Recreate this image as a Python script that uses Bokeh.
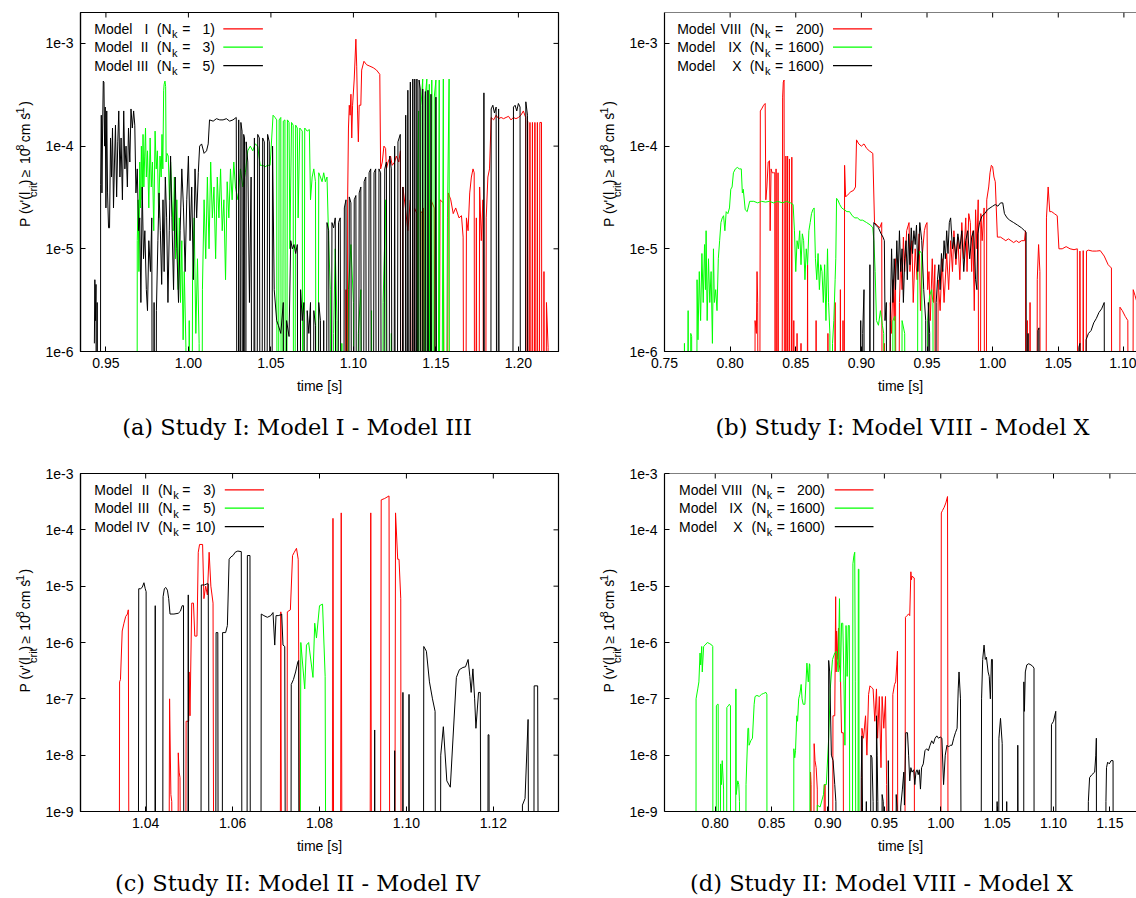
import math
from bokeh.plotting import figure
from bokeh.models import Range1d, FixedTicker, CustomJSTickFormatter, Label, Span
from bokeh.layouts import column, row
from bokeh.embed import file_html
from bokeh.resources import INLINE

LOW = 1e-12  # probability below the plotted range (drawn as a drop to the axis)

# ---------------- Panel (a): Study I, Model I - Model III ----------------
a_xticks = [0.95, 1.00, 1.05, 1.10, 1.15, 1.20]
a_yticks = [1e-6, 1e-5, 1e-4, 1e-3]
a_model_I = [
    (1.0950, LOW), (1.0955, 4e-6), (1.0960, LOW), (1.0965, 3e-5), (1.0970, 1.5e-4), (1.0975, 2.5e-4),
    (1.0980, 2e-4), (1.0985, 3.2e-4), (1.0990, 1.2e-4), (1.0995, 2.5e-4), (1.1005, 4.5e-4), (1.1015, 1.1e-3),
    (1.1020, 6e-4), (1.1025, 2.2e-4), (1.1030, 1.1e-4), (1.1035, 2.5e-4), (1.1045, 2.5e-4), (1.1050, 5.5e-4),
    (1.1064, 6.7e-4), (1.1080, 6.2e-4), (1.1100, 6.0e-4), (1.1120, 5.8e-4), (1.1140, 5.5e-4), (1.1160, 5.0e-4),
    (1.1165, 6e-5), (1.1175, 7e-5), (1.1185, 1.0e-4), (1.1195, 9.5e-5), (1.1200, 6e-5), (1.1210, 7e-5),
    (1.1225, 8e-5), (1.1235, 6.5e-5), (1.1250, 7e-5), (1.1260, 8e-5), (1.1275, 7e-5), (1.1285, 9e-5),
    (1.1290, LOW), (1.1300, 4e-5), (1.1315, 2.5e-5), (1.1330, 1.5e-5), (1.1345, 3e-5), (1.1360, LOW),
    (1.1370, 2.5e-5), (1.1385, 2.2e-5), (1.1400, LOW), (1.1410, 2.2e-5), (1.1425, 2.5e-5), (1.1440, LOW),
    (1.1470, 3e-5), (1.1490, 2.5e-5), (1.1510, LOW), (1.1525, 3e-5), (1.1545, 2.8e-5), (1.1560, LOW),
    (1.1575, 3.5e-5), (1.1590, 3e-5), (1.1605, 2.2e-5), (1.1620, 2.5e-5), (1.1640, 2e-5), (1.1655, 2.1e-5),
    (1.1665, 1.3e-5), (1.1675, LOW), (1.1685, 2e-5), (1.1695, 1.5e-5), (1.1705, 3.5e-5), (1.1715, 5e-5),
    (1.1725, 6e-5), (1.1732, 5.5e-5), (1.1738, LOW), (1.1745, 2e-5), (1.1755, LOW), (1.1765, 4e-5),
    (1.1775, 1.2e-5), (1.1785, 3e-5), (1.1795, LOW), (1.1805, 2e-5), (1.1815, 5e-5), (1.1825, 6e-5),
    (1.1835, 1.9e-4), (1.1850, 1.8e-4), (1.1865, 2.0e-4), (1.1880, 1.85e-4), (1.1895, 1.9e-4), (1.1910, 1.85e-4),
    (1.1925, 1.9e-4), (1.1940, 1.95e-4), (1.1955, 1.8e-4), (1.1970, 1.9e-4), (1.1985, 1.85e-4), (1.2000, 1.9e-4),
    (1.2015, 2.0e-4), (1.2030, 2.2e-4), (1.2044, 1.9e-4), (1.2050, LOW), (1.2056, 1.75e-4), (1.2062, LOW),
    (1.2070, 1.7e-4), (1.2076, LOW), (1.2085, 1.7e-4), (1.2092, LOW), (1.2100, 1.7e-4), (1.2107, LOW),
    (1.2115, 1.7e-4), (1.2122, LOW), (1.2130, 1.7e-4), (1.2140, 1.7e-4), (1.2145, LOW), (1.2155, 6e-6),
    (1.2160, LOW), (1.2170, 3e-6), (1.2180, 1.1e-6), (1.2185, LOW),
]
a_model_II = [
    (0.9687, LOW), (0.9690, 1.2e-5), (0.9695, 3e-5), (0.9700, 6e-6), (0.9705, 7e-5), (0.9710, 2.5e-5),
    (0.9715, 1e-4), (0.9720, 3e-5), (0.9725, 1.3e-4), (0.9730, 4e-5), (0.9735, 8e-5), (0.9740, 1.5e-4),
    (0.9745, 5e-5), (0.9752, 9e-5), (0.9760, 2.5e-5), (0.9768, 1.2e-4), (0.9775, 4e-5), (0.9782, 7e-5),
    (0.9790, 1.5e-5), (0.9798, 1.4e-4), (0.9805, 6e-5), (0.9812, 9e-5), (0.9820, 2e-5), (0.9828, 8e-5),
    (0.9835, 5e-5), (0.9840, 1.3e-4), (0.9845, 6e-5), (0.9850, 3.5e-4), (0.9853, 4.0e-4), (0.9858, 4.3e-4),
    (0.9862, 3.8e-4), (0.9865, 7e-5), (0.9870, 8.5e-5), (0.9878, 8e-5), (0.9885, 3e-5), (0.9892, 7e-5),
    (0.9900, 3e-5), (0.9908, 1.5e-5), (0.9915, 5e-5), (0.9922, 8e-6), (0.9930, 3e-5), (0.9938, 4e-6),
    (0.9945, 2e-5), (0.9952, 3e-6), (0.9960, 1.2e-5), (0.9968, 1.3e-6), (0.9975, 6e-6), (0.9985, 1.1e-6),
    (0.9995, LOW), (1.0005, 2e-6), (1.0015, LOW), (1.0025, 5e-6), (1.0035, 2e-5), (1.0045, 1.5e-6),
    (1.0055, 8e-6), (1.0065, 1.2e-6), (1.0075, LOW), (1.0085, 4e-6), (1.0095, 3e-5), (1.0105, 8e-6),
    (1.0115, 5e-5), (1.0125, 1e-5), (1.0135, 7e-5), (1.0145, 2e-5), (1.0155, 4e-5), (1.0165, 8e-6),
    (1.0175, 5e-5), (1.0185, 2e-5), (1.0195, 6e-5), (1.0205, 1.5e-5), (1.0215, 3e-5), (1.0225, 5e-6),
    (1.0235, 4.5e-5), (1.0245, 2e-5), (1.0255, 6e-5), (1.0265, 3e-5), (1.0275, 7e-5), (1.0285, 4e-5),
    (1.0300, 3e-5), (1.0315, 6e-5), (1.0330, 4e-5), (1.0345, 5.5e-5), (1.0360, 9e-5), (1.0375, 1.0e-4),
    (1.0390, 9e-5), (1.0405, 1.05e-4), (1.0420, 1.0e-4), (1.0435, 6.5e-5), (1.0450, 6.5e-5), (1.0465, 6.3e-5),
    (1.0480, 6.5e-5), (1.0495, 6.5e-5), (1.0505, 1.2e-4), (1.0513, 2.0e-4), (1.0525, 1.9e-4), (1.0535, 1.8e-4),
    (1.0540, LOW), (1.0550, 1.8e-4), (1.0560, 1.9e-4), (1.0565, LOW), (1.0575, 1.75e-4), (1.0585, 1.8e-4),
    (1.0590, LOW), (1.0600, 1.8e-4), (1.0610, 1.7e-4), (1.0615, 1e-5), (1.0625, 1.7e-4), (1.0635, 1.6e-4),
    (1.0640, LOW), (1.0650, 1.6e-4), (1.0660, 1.5e-4), (1.0665, 2e-5), (1.0675, 1.5e-4), (1.0690, 1.4e-4),
    (1.0695, LOW), (1.0705, 1.5e-4), (1.0720, 1.4e-4), (1.0733, 1.45e-4), (1.0740, 3e-5), (1.0750, 5e-5),
    (1.0760, 6e-5), (1.0770, 4.5e-5), (1.0780, LOW), (1.0790, 5.5e-5), (1.0800, 5e-5), (1.0810, 4.5e-5),
    (1.0820, 5.5e-5), (1.0830, 4.5e-5), (1.0840, 5e-5), (1.0850, 1.2e-5), (1.0860, 4e-6), (1.0870, LOW),
    (1.0880, 1.5e-6), (1.0890, 1e-5), (1.0900, 2e-6), (1.0910, LOW), (1.0930, 1.2e-6), (1.0950, LOW),
    (1.0970, 4e-6), (1.0985, 1.1e-5), (1.1000, 3e-6), (1.1010, LOW), (1.1030, 1.5e-6), (1.1045, 4e-6),
    (1.1060, LOW), (1.1100, LOW), (1.1110, 2.5e-6), (1.1120, LOW), (1.1170, LOW), (1.1180, 3e-6),
    (1.1196, 3e-5), (1.1205, LOW), (1.1230, 1.5e-6), (1.1240, LOW), (1.1385, LOW), (1.1390, 5e-5),
    (1.1395, 2.2e-4), (1.1400, LOW), (1.1410, 2.5e-4), (1.1420, 4.5e-4), (1.1425, LOW), (1.1435, 3e-4),
    (1.1445, 4.5e-4), (1.1450, LOW), (1.1460, 4e-4), (1.1465, LOW), (1.1475, 4.4e-4), (1.1480, LOW),
    (1.1490, 3e-4), (1.1500, 4.4e-4), (1.1505, LOW), (1.1520, 4.4e-4), (1.1525, LOW), (1.1545, 4.5e-4),
    (1.1550, LOW), (1.1570, 2e-5), (1.1580, 4.5e-4), (1.1585, LOW), (1.1600, LOW),
]
a_model_III = [
    (0.9430, 1.2e-6), (0.9433, 5e-6), (0.9437, 2e-6), (0.9440, 4.5e-6), (0.9444, LOW), (0.9447, 3e-6),
    (0.9450, LOW), (0.9466, LOW), (0.9468, 4.2e-5), (0.9472, 2e-4), (0.9476, 3.5e-5), (0.9480, 1.5e-4),
    (0.9484, 4.3e-4), (0.9488, 4.2e-4), (0.9492, 1.0e-4), (0.9496, 2.4e-4), (0.9500, 2.5e-5), (0.9505, 2.2e-4),
    (0.9510, 3.5e-5), (0.9516, 1.6e-5), (0.9522, 1.6e-5), (0.9528, 1.2e-4), (0.9534, 5e-5), (0.9540, 1.5e-4),
    (0.9546, 2.5e-5), (0.9552, 7e-5), (0.9558, 1.6e-4), (0.9565, 3.2e-5), (0.9572, 1.1e-4), (0.9578, 2.2e-4),
    (0.9585, 5e-5), (0.9592, 1.2e-4), (0.9600, 3e-5), (0.9608, 2.2e-4), (0.9615, 6e-5), (0.9622, 1.0e-4),
    (0.9630, 4e-5), (0.9637, 1.5e-4), (0.9645, 7e-5), (0.9652, 2.3e-4), (0.9660, 1.5e-4), (0.9668, 2.2e-4),
    (0.9675, 1.6e-4), (0.9682, 3.5e-5), (0.9690, 6e-5), (0.9698, 1.5e-5), (0.9705, 2e-5), (0.9712, 3e-6),
    (0.9720, 4e-5), (0.9728, 8e-6), (0.9736, 1.5e-5), (0.9745, 4e-6), (0.9752, 2.5e-6), (0.9760, 1.2e-5),
    (0.9770, 6e-6), (0.9778, 2e-5), (0.9786, LOW), (0.9792, 3e-6), (0.9800, LOW), (0.9806, 2.5e-6),
    (0.9815, 1.2e-5), (0.9822, 3.5e-5), (0.9830, 1.5e-5), (0.9838, 4.5e-6), (0.9846, 3e-5), (0.9853, 6e-6),
    (0.9860, 5e-5), (0.9868, 2e-5), (0.9876, 3e-6), (0.9884, 1.5e-5), (0.9892, 8e-5), (0.9900, 2e-5),
    (0.9910, 4e-6), (0.9920, 5e-5), (0.9930, 1e-5), (0.9940, 3e-6), (0.9950, 1.5e-5), (0.9960, 6e-5),
    (0.9970, 2.5e-5), (0.9980, 6e-6), (0.9990, 3e-5), (1.0000, 8e-5), (1.0010, 1.2e-5), (1.0020, 4e-5),
    (1.0030, 5e-6), (1.0040, 6e-5), (1.0050, 2e-5), (1.0060, 5.5e-5), (1.0068, 1.0e-4), (1.0080, 1.05e-4),
    (1.0095, 8.5e-5), (1.0110, 9e-5), (1.0120, 1.05e-4), (1.0128, 1.8e-4), (1.0150, 1.75e-4), (1.0170, 1.85e-4),
    (1.0190, 1.8e-4), (1.0210, 1.8e-4), (1.0230, 1.85e-4), (1.0250, 1.75e-4), (1.0270, 1.8e-4), (1.0290, 1.9e-4),
    (1.0300, LOW), (1.0305, 1.8e-4), (1.0312, LOW), (1.0318, 1.7e-4), (1.0325, 1.4e-4), (1.0330, LOW),
    (1.0335, 1.3e-4), (1.0340, 1.2e-4), (1.0345, LOW), (1.0350, 1.1e-4), (1.0360, 7e-5), (1.0370, 3e-6),
    (1.0380, 5e-5), (1.0390, LOW), (1.0400, 1.2e-4), (1.0410, LOW), (1.0420, 1.3e-4), (1.0430, 1.2e-4),
    (1.0440, LOW), (1.0450, 1.2e-4), (1.0460, 1.1e-4), (1.0470, LOW), (1.0480, 1.3e-4), (1.0490, 1.1e-4),
    (1.0500, LOW), (1.0510, 1.0e-4), (1.0520, 4e-6), (1.0535, 2e-6), (1.0545, 1.8e-6), (1.0560, 1.5e-6),
    (1.0575, 3e-6), (1.0585, LOW), (1.0595, 2e-6), (1.0610, 1.4e-6), (1.0620, 1.2e-5), (1.0630, 1e-5),
    (1.0640, 1.1e-5), (1.0650, 9e-6), (1.0660, 1.1e-5), (1.0670, LOW), (1.0680, 4e-6), (1.0690, 2e-6),
    (1.0700, 3e-6), (1.0710, LOW), (1.0720, 2.5e-6), (1.0730, 1.5e-6), (1.0740, 3e-6), (1.0750, LOW),
    (1.0760, 2.5e-6), (1.0770, 1.8e-6), (1.0780, LOW), (1.0790, 3e-6), (1.0800, 2e-6), (1.0810, LOW),
    (1.0820, 2e-6), (1.0830, LOW), (1.0840, 1.8e-5), (1.0850, 1.5e-5), (1.0860, LOW), (1.0870, 1.8e-5),
    (1.0880, 1.6e-5), (1.0890, 2e-5), (1.0900, LOW), (1.0910, 1.8e-5), (1.0920, 2e-5), (1.0935, LOW),
    (1.0945, 2.5e-5), (1.0955, 3e-5), (1.0965, LOW), (1.0975, 3.2e-5), (1.0985, 2.8e-5), (1.0995, LOW),
    (1.1005, 3e-5), (1.1015, 3.3e-5), (1.1025, LOW), (1.1035, 3.5e-5), (1.1045, 4e-5), (1.1055, LOW),
    (1.1065, 4.5e-5), (1.1075, 5e-5), (1.1085, LOW), (1.1095, 5.5e-5), (1.1105, 6e-5), (1.1115, LOW),
    (1.1125, 5.5e-5), (1.1135, 6e-5), (1.1145, LOW), (1.1155, 6e-5), (1.1165, 5.5e-5), (1.1175, LOW),
    (1.1190, 6e-5), (1.1200, 7e-5), (1.1210, LOW), (1.1220, 8e-5), (1.1230, 6e-5), (1.1240, LOW),
    (1.1250, 1.0e-4), (1.1260, LOW), (1.1270, 1.1e-4), (1.1284, 1.3e-4), (1.1290, LOW), (1.1300, 4e-5),
    (1.1310, LOW), (1.1317, 2e-4), (1.1325, LOW), (1.1330, 3.5e-4), (1.1338, LOW), (1.1345, 4.2e-4),
    (1.1352, LOW), (1.1360, 4.5e-4), (1.1366, LOW), (1.1372, 4.5e-4), (1.1378, LOW), (1.1385, 4.5e-4),
    (1.1392, LOW), (1.1398, 4.4e-4), (1.1405, 3.6e-4), (1.1412, LOW), (1.1420, 3.6e-4), (1.1428, LOW),
    (1.1436, 3.4e-4), (1.1445, LOW), (1.1452, 3.5e-4), (1.1460, LOW), (1.1470, 3.2e-4), (1.1480, LOW),
    (1.1500, 3.0e-4), (1.1510, LOW), (1.1785, LOW), (1.1791, 3.3e-4), (1.1797, LOW), (1.1830, LOW),
    (1.1835, 2.3e-4), (1.1845, 2.5e-4), (1.1855, 2.1e-4), (1.1865, 2.4e-4), (1.1872, LOW), (1.1880, 2.3e-4),
    (1.1890, LOW), (1.1960, LOW), (1.1970, 2.4e-4), (1.1980, 2.5e-4), (1.1990, 2.2e-4), (1.2000, 2.6e-4),
    (1.2010, 2.4e-4), (1.2015, LOW), (1.2040, LOW), (1.2045, 2.7e-4), (1.2055, 2e-4), (1.2060, LOW),
]

# ---------------- Panel (b): Study I, Model VIII - Model X ----------------
b_xticks = [0.75, 0.80, 0.85, 0.90, 0.95, 1.00, 1.05, 1.10]
b_yticks = [1e-6, 1e-5, 1e-4, 1e-3]
b_model_VIII = [
    (0.8185, LOW), (0.8190, 2e-6), (0.8200, 1.5e-6), (0.8205, 6e-6), (0.8210, 3e-6), (0.8220, LOW),
    (0.8230, 2.2e-4), (0.8240, 2.3e-4), (0.8255, 2.5e-4), (0.8267, 2.6e-4), (0.8272, 3e-5), (0.8280, 4e-5),
    (0.8290, 7e-5), (0.8300, 7.2e-5), (0.8305, 1.5e-5), (0.8312, 6e-5), (0.8320, 5.5e-5), (0.8330, 5.5e-5),
    (0.8340, 5.5e-5), (0.8345, LOW), (0.8350, 6e-5), (0.8358, LOW), (0.8365, 5.5e-5), (0.8375, LOW),
    (0.8390, LOW), (0.8400, 3e-4), (0.8405, 4.2e-4), (0.8411, 4.4e-4), (0.8418, LOW), (0.8425, 8e-5),
    (0.8430, LOW), (0.8438, 8e-5), (0.8445, LOW), (0.8452, 7.5e-5), (0.8460, LOW), (0.8470, 7.8e-5),
    (0.8477, LOW), (0.8485, 2e-6), (0.8495, LOW), (0.8510, 1.5e-6), (0.8520, LOW), (0.8540, 1.2e-6),
    (0.8550, LOW), (0.8580, LOW), (0.8590, 7e-6), (0.8600, LOW), (0.8650, LOW), (0.8655, 2e-6),
    (0.8665, LOW), (0.8740, LOW), (0.8745, 1.5e-6), (0.8755, LOW), (0.8790, LOW), (0.8800, 3e-6),
    (0.8810, LOW), (0.8830, LOW), (0.8840, 4e-6), (0.8850, LOW), (0.8860, 2e-6), (0.8866, LOW),
    (0.8872, 6.5e-5), (0.8880, 3.2e-5), (0.8900, 3.4e-5), (0.8920, 3.6e-5), (0.8940, 3.7e-5), (0.8955, 4e-5),
    (0.8963, 1.15e-4), (0.8980, 1.05e-4), (0.9000, 1.0e-4), (0.9020, 1.05e-4), (0.9040, 9.5e-5), (0.9060, 9e-5),
    (0.9087, 8.5e-5), (0.9100, 1.8e-5), (0.9120, 1.7e-5), (0.9140, 1.6e-5), (0.9155, 1.8e-5), (0.9165, LOW),
    (0.9175, 1.2e-6), (0.9185, LOW), (0.9215, LOW), (0.9220, 3e-6), (0.9230, 1.5e-6), (0.9240, 5e-6),
    (0.9250, 2e-6), (0.9260, 8e-6), (0.9270, LOW), (0.9290, 3e-6), (0.9300, 8e-6), (0.9310, 4e-6),
    (0.9320, 1.3e-5), (0.9330, 6e-6), (0.9345, 1.5e-5), (0.9363, 1.8e-5), (0.9370, 6e-6), (0.9385, 1.2e-5),
    (0.9395, 3e-6), (0.9410, 1e-5), (0.9425, 5e-6), (0.9440, 1.4e-5), (0.9450, 2.5e-6), (0.9465, 9e-6),
    (0.9480, 1.5e-5), (0.9490, 1.7e-5), (0.9500, 1.8e-5), (0.9505, 4e-6), (0.9515, 6e-6), (0.9525, 2e-6),
    (0.9540, 8e-6), (0.9550, 3e-6), (0.9560, 7e-6), (0.9570, LOW), (0.9585, 5e-6), (0.9600, 2.5e-6),
    (0.9615, 8e-6), (0.9630, 3e-6), (0.9650, 9e-6), (0.9665, 4e-6), (0.9680, 1.2e-5), (0.9694, 6e-6),
    (0.9705, 1.5e-5), (0.9720, 7e-6), (0.9735, 1.3e-5), (0.9750, 5e-6), (0.9765, 1.8e-5), (0.9780, 8e-6),
    (0.9795, 2e-5), (0.9805, 6e-6), (0.9818, 2.2e-5), (0.9830, 1.8e-5), (0.9840, 6e-6), (0.9850, 1.5e-5),
    (0.9860, 2.5e-6), (0.9870, 2.4e-5), (0.9880, 1e-5), (0.9890, 3e-5), (0.9900, LOW), (0.9910, 2.2e-5),
    (0.9920, 1.2e-5), (0.9935, 2.5e-5), (0.9945, LOW), (0.9955, 3e-5), (0.9970, 4e-5), (0.9980, 5.5e-5),
    (0.9990, 6.5e-5), (1.0000, 6.3e-5), (1.0010, 5e-5), (1.0020, 4.5e-5), (1.0036, 1.3e-5), (1.0060, 1.3e-5),
    (1.0080, 1.25e-5), (1.0100, 1.2e-5), (1.0120, 1.25e-5), (1.0140, 1.2e-5), (1.0160, 1.15e-5), (1.0180, 1.2e-5),
    (1.0200, 1.15e-5), (1.0220, 1.2e-5), (1.0243, 1.2e-5), (1.0250, 1.5e-5), (1.0255, LOW), (1.0265, 2e-6),
    (1.0275, LOW), (1.0285, 3e-6), (1.0295, LOW), (1.0330, LOW), (1.0340, 5e-6), (1.0350, 1.1e-5),
    (1.0360, 6e-6), (1.0370, LOW), (1.0400, LOW), (1.0410, 2e-5), (1.0423, 4e-5), (1.0435, 2.3e-5),
    (1.0450, 2.3e-5), (1.0470, 2.2e-5), (1.0492, 2.1e-5), (1.0505, 1e-5), (1.0530, 1e-5), (1.0560, 1.05e-5),
    (1.0590, 1e-5), (1.0620, 9.8e-6), (1.0645, 1e-5), (1.0655, LOW), (1.0665, 9.5e-6), (1.0680, LOW),
    (1.0690, 9.6e-6), (1.0705, LOW), (1.0715, 9.5e-6), (1.0730, 9.7e-6), (1.0760, 9.5e-6), (1.0790, 9.5e-6),
    (1.0820, 9.6e-6), (1.0850, 8.5e-6), (1.0880, 7e-6), (1.0905, 6.5e-6), (1.0915, LOW), (1.0960, LOW),
    (1.0970, 2.7e-6), (1.0988, 2.5e-6), (1.1010, 2.2e-6), (1.1030, 2e-6), (1.1040, LOW), (1.1060, LOW),
    (1.1071, 4e-6), (1.1085, 3.5e-6), (1.1100, 3e-6),
]
b_model_IX = [
    (0.7650, LOW), (0.7652, 1.2e-6), (0.7665, LOW), (0.7680, 2.5e-6), (0.7690, LOW), (0.7700, 1.5e-6),
    (0.7707, 1.4e-6), (0.7715, LOW), (0.7740, LOW), (0.7748, 5e-6), (0.7755, 1.3e-6), (0.7765, 6e-6),
    (0.7775, 2e-6), (0.7785, 9e-6), (0.7795, 3e-6), (0.7805, 1.1e-5), (0.7812, 4e-6), (0.7817, 1.5e-5),
    (0.7825, 2e-6), (0.7835, 8e-6), (0.7845, 3e-6), (0.7855, 6e-6), (0.7865, 1.2e-6), (0.7873, 1e-5),
    (0.7880, 3e-6), (0.7890, 4e-6), (0.7900, 2.5e-6), (0.7910, 8e-6), (0.7920, 1.2e-5), (0.7930, 1.8e-5),
    (0.7940, 2e-5), (0.7950, 2.1e-5), (0.7960, 1.5e-5), (0.7970, 2.3e-5), (0.7983, 2.2e-5), (0.7995, 2.5e-5),
    (0.8005, 3.8e-5), (0.8015, 4e-5), (0.8025, 5.5e-5), (0.8040, 6e-5), (0.8055, 6.2e-5), (0.8070, 6e-5),
    (0.8085, 6e-5), (0.8093, 3.5e-5), (0.8100, 3.8e-5), (0.8115, 2.4e-5), (0.8130, 2.3e-5), (0.8149, 2.9e-5),
    (0.8180, 2.9e-5), (0.8210, 2.8e-5), (0.8240, 2.9e-5), (0.8270, 2.85e-5), (0.8300, 2.9e-5), (0.8330, 2.8e-5),
    (0.8360, 2.9e-5), (0.8400, 2.8e-5), (0.8430, 2.9e-5), (0.8460, 2.8e-5), (0.8480, 2.7e-5), (0.8490, 1.5e-5),
    (0.8500, 6e-6), (0.8510, 1.2e-5), (0.8520, 1e-5), (0.8530, 1.5e-5), (0.8540, 7e-6), (0.8550, 1.4e-5),
    (0.8560, 1.2e-5), (0.8570, 5e-6), (0.8580, 1e-5), (0.8590, 7e-6), (0.8600, 1.5e-5), (0.8610, 1.8e-5),
    (0.8620, 2.2e-5), (0.8630, 2.4e-5), (0.8640, 2.5e-5), (0.8650, 8e-6), (0.8660, 5e-6), (0.8670, 9e-6),
    (0.8680, 4e-6), (0.8690, 7e-6), (0.8700, 6e-6), (0.8710, 3e-6), (0.8720, 7e-6), (0.8730, 2e-6),
    (0.8742, 1e-5), (0.8750, 3e-6), (0.8760, 1.5e-6), (0.8770, LOW), (0.8780, 1.2e-6), (0.8790, 2e-6),
    (0.8800, 5e-6), (0.8805, 8e-6), (0.8811, 3.1e-5), (0.8820, 3e-5), (0.8835, 2.7e-5), (0.8850, 2.5e-5),
    (0.8870, 2.4e-5), (0.8890, 2.3e-5), (0.8910, 2.3e-5), (0.8930, 2.1e-5), (0.8950, 2e-5), (0.8970, 2e-5),
    (0.8990, 1.9e-5), (0.9010, 1.9e-5), (0.9040, 1.8e-5), (0.9070, 1.7e-5), (0.9087, 1.6e-5), (0.9095, 1.2e-5),
    (0.9105, 6e-6), (0.9115, 2e-6), (0.9130, 1.8e-6), (0.9145, 2.5e-6), (0.9160, 1.8e-6), (0.9170, 1.5e-6),
    (0.9180, LOW), (0.9230, LOW), (0.9240, 2e-6), (0.9255, 2.2e-6), (0.9270, LOW), (0.9300, LOW),
    (0.9310, 2e-6), (0.9330, 1.5e-6), (0.9340, LOW), (0.9420, LOW), (0.9430, 8e-6), (0.9445, 9.5e-6),
    (0.9460, 9e-6), (0.9470, LOW), (0.9500, LOW), (0.9505, 2e-6), (0.9520, 3.5e-6), (0.9535, 4e-6),
    (0.9545, 3e-6), (0.9555, LOW),
]
b_model_X = [
    (0.8990, LOW), (0.8995, 2e-6), (0.9000, LOW), (0.9010, 1.5e-6), (0.9020, 4e-6), (0.9025, LOW),
    (0.9060, LOW), (0.9065, 7e-6), (0.9070, LOW), (0.9085, LOW), (0.9095, 1.8e-5), (0.9110, 1.7e-5),
    (0.9130, 1.6e-5), (0.9150, 1.4e-5), (0.9165, 1.3e-5), (0.9175, 1.2e-5), (0.9180, 2e-6), (0.9190, 3e-6),
    (0.9200, LOW), (0.9220, 2e-6), (0.9230, 1e-5), (0.9240, 3e-6), (0.9250, 8e-6), (0.9260, 4e-6),
    (0.9270, 1.2e-5), (0.9280, 5e-6), (0.9290, 1.5e-5), (0.9300, 6e-6), (0.9310, 1e-5), (0.9320, 3e-6),
    (0.9330, 8e-6), (0.9340, 1.2e-5), (0.9350, 5e-6), (0.9360, 1.4e-5), (0.9370, 7e-6), (0.9380, 1.6e-5),
    (0.9390, 9e-6), (0.9400, 1.5e-5), (0.9410, 1.1e-5), (0.9420, 1.7e-5), (0.9430, 6e-6), (0.9445, 1.8e-5),
    (0.9460, 1.2e-5), (0.9475, 4e-6), (0.9490, 2e-6), (0.9500, LOW), (0.9510, 3e-6), (0.9520, 1.5e-6),
    (0.9530, LOW), (0.9560, LOW), (0.9570, 3e-6), (0.9580, 5e-6), (0.9590, 7e-6), (0.9600, 4e-6),
    (0.9610, 9e-6), (0.9620, 6e-6), (0.9630, 1.2e-5), (0.9640, 8e-6), (0.9650, 1.5e-5), (0.9660, 9e-6),
    (0.9670, 1.8e-5), (0.9680, 2e-5), (0.9694, 1e-5), (0.9705, 1.3e-5), (0.9720, 8e-6), (0.9735, 1.4e-5),
    (0.9750, 1e-5), (0.9765, 1.5e-5), (0.9780, 6e-6), (0.9795, 1.2e-5), (0.9810, 1.5e-5), (0.9825, 8e-6),
    (0.9840, 1.3e-5), (0.9855, 1.5e-5), (0.9870, 5e-6), (0.9880, 4e-6), (0.9887, 1.4e-5), (0.9900, 1.8e-5),
    (0.9920, 2.1e-5), (0.9940, 2.2e-5), (0.9960, 2.4e-5), (0.9980, 2.5e-5), (1.0000, 2.6e-5), (1.0020, 2.7e-5),
    (1.0040, 2.6e-5), (1.0060, 2.8e-5), (1.0077, 2.8e-5), (1.0090, 2.2e-5), (1.0110, 2e-5), (1.0130, 1.9e-5),
    (1.0160, 1.8e-5), (1.0190, 1.7e-5), (1.0220, 1.6e-5), (1.0243, 1.5e-5), (1.0255, 1.45e-5), (1.0260, LOW),
    (1.0270, 1.5e-6), (1.0280, LOW), (1.0340, LOW), (1.0345, 1.6e-6), (1.0353, 1.7e-6), (1.0360, LOW),
    (1.0650, LOW), (1.0657, 1.1e-6), (1.0665, 1.2e-6), (1.0670, LOW), (1.0700, LOW), (1.0712, 1.3e-6),
    (1.0730, 1.5e-6), (1.0750, 1.6e-6), (1.0770, 1.9e-6), (1.0790, 2.1e-6), (1.0810, 2.4e-6), (1.0830, 2.6e-6),
    (1.0850, 3e-6), (1.0860, LOW),
]

# ---------------- Panel (c): Study II, Model II - Model IV ----------------
c_xticks = [1.04, 1.06, 1.08, 1.10, 1.12]
c_yticks = [1e-9, 1e-8, 1e-7, 1e-6, 1e-5, 1e-4, 1e-3]
c_model_II = [
    (1.0339, LOW), (1.0340, 2e-7), (1.0342, 2.2e-7), (1.0346, 1.6e-6), (1.0350, 2.2e-6), (1.0354, 2.9e-6),
    (1.0358, 3.2e-6), (1.0360, 3.8e-6), (1.0362, LOW), (1.0453, LOW), (1.0455, 1e-7), (1.0458, 2e-9),
    (1.0460, 1.5e-9), (1.0462, LOW), (1.0474, LOW), (1.0475, 1.1e-8), (1.0477, 5e-9), (1.0479, 4e-9),
    (1.0481, LOW), (1.0492, LOW), (1.0493, 4e-8), (1.0499, 4e-8), (1.0500, 3e-7), (1.0502, 5e-8),
    (1.0506, 5e-6), (1.0510, 5e-6), (1.0513, 1.3e-6), (1.0518, 1.3e-6), (1.0521, 4e-5), (1.0524, 5.5e-5),
    (1.0531, 5.5e-5), (1.0534, 6e-6), (1.0538, 1e-5), (1.0542, 7e-6), (1.0546, 4e-5), (1.0550, 1e-5),
    (1.0555, 5e-6), (1.0557, LOW), (1.0709, LOW), (1.0711, 3.5e-6), (1.0713, LOW), (1.0725, LOW),
    (1.0726, 3.5e-6), (1.0733, 3.8e-6), (1.0738, 3.5e-5), (1.0742, 4e-5), (1.0747, 4.7e-5), (1.0751, 3e-5),
    (1.0756, LOW), (1.0829, LOW), (1.0831, 1.6e-4), (1.0833, LOW), (1.0848, LOW), (1.0850, 2e-4),
    (1.0852, LOW), (1.0916, LOW), (1.0918, 2e-4), (1.0920, LOW), (1.0940, LOW), (1.0942, 3.4e-4),
    (1.0950, 3.6e-4), (1.0960, 4e-4), (1.0962, LOW), (1.0973, LOW), (1.0975, 2e-4), (1.0980, 3e-5),
    (1.0983, 3e-5), (1.0987, 6e-6), (1.0988, LOW),
]
c_model_III = [
    (1.0755, LOW), (1.0757, 1e-6), (1.0766, 1.5e-7), (1.0770, 9e-7), (1.0775, 1e-6), (1.0785, 2.4e-7),
    (1.0789, 2.2e-6), (1.0793, 1.2e-6), (1.0800, 4.5e-6), (1.0807, 4.8e-6), (1.0813, 2.5e-7), (1.0815, LOW),
]
c_model_IV = [
    (1.0383, LOW), (1.0384, 9e-6), (1.0388, 9e-6), (1.0392, 9.5e-6), (1.0396, 1.15e-5), (1.0399, 9e-6),
    (1.0401, 8e-6), (1.0402, LOW), (1.0421, LOW), (1.0422, 4.5e-6), (1.0423, LOW), (1.0439, LOW),
    (1.0440, 6.5e-6), (1.0443, 9e-6), (1.0446, 9.5e-6), (1.0450, 8.5e-6), (1.0453, 6e-6), (1.0456, 3.2e-6),
    (1.0465, 3.2e-6), (1.0475, 3.3e-6), (1.0480, 3.6e-6), (1.0484, 4.5e-6), (1.0487, 4.5e-6), (1.0488, LOW),
    (1.0497, LOW), (1.0498, 7e-6), (1.0499, LOW), (1.0527, LOW), (1.0528, 1.05e-5), (1.0535, 1.05e-5),
    (1.0541, 1.1e-5), (1.0544, 1.1e-5), (1.0546, LOW), (1.0561, LOW), (1.0562, 1.5e-6), (1.0566, 1.5e-6),
    (1.0567, LOW), (1.0576, LOW), (1.0577, 1.5e-6), (1.0584, 1.5e-6), (1.0588, 2e-6), (1.0592, 3e-5),
    (1.0596, 3.3e-5), (1.0601, 3.5e-5), (1.0606, 4e-5), (1.0612, 4.2e-5), (1.0620, 4.1e-5), (1.0622, LOW),
    (1.0633, LOW), (1.0634, 3.5e-5), (1.0640, 3.5e-5), (1.0641, LOW), (1.0665, LOW), (1.0666, 3.2e-6),
    (1.0672, 3e-6), (1.0680, 2.8e-6), (1.0688, 3e-6), (1.0693, 3.4e-6), (1.0697, 9e-7), (1.0700, 3e-6),
    (1.0705, 3e-6), (1.0711, 3.1e-6), (1.0713, 3.2e-6), (1.0716, 9e-7), (1.0720, 8.5e-7), (1.0722, LOW),
    (1.0734, LOW), (1.0735, 1.8e-7), (1.0740, 2.2e-7), (1.0745, 3e-7), (1.0750, 4.5e-7), (1.0752, 4.8e-7),
    (1.0753, LOW), (1.0926, LOW), (1.0927, 2.8e-8), (1.0928, LOW), (1.0972, LOW), (1.0973, 1.2e-8),
    (1.0974, LOW), (1.0991, LOW), (1.0992, 1.3e-7), (1.0993, LOW), (1.1005, LOW), (1.1006, 1.2e-7),
    (1.1007, LOW), (1.1039, LOW), (1.1040, 8.5e-7), (1.1046, 7e-7), (1.1053, 2e-7), (1.1060, 1e-7),
    (1.1066, 6e-8), (1.1067, LOW), (1.1078, LOW), (1.1079, 1e-8), (1.1085, 3.2e-8), (1.1093, 3.5e-9),
    (1.1101, 2.7e-9), (1.1115, 2.4e-7), (1.1122, 3.3e-7), (1.1130, 3.6e-7), (1.1136, 3.7e-7), (1.1142, 5e-7),
    (1.1146, 2.5e-7), (1.1149, 1.3e-7), (1.1153, 3.4e-7), (1.1157, 1e-7), (1.1160, 3e-8), (1.1166, 1.3e-7),
    (1.1170, 1.3e-7), (1.1172, LOW), (1.1187, LOW), (1.1188, 2.3e-8), (1.1190, 2.3e-8), (1.1191, LOW),
    (1.1266, LOW), (1.1267, 1.3e-9), (1.1273, 1.7e-9), (1.1280, 4.3e-8), (1.1282, LOW), (1.1293, LOW),
    (1.1294, 1.7e-7), (1.1302, 1.7e-7), (1.1304, LOW),
]

# ---------------- Panel (d): Study II, Model VIII - Model X ----------------
d_xticks = [0.80, 0.85, 0.90, 0.95, 1.00, 1.05, 1.10, 1.15]
d_yticks = [1e-9, 1e-8, 1e-7, 1e-6, 1e-5, 1e-4, 1e-3]
d_model_VIII = [
    (0.8843, LOW), (0.8845, 5e-9), (0.8850, 3e-9), (0.8855, LOW), (0.8872, LOW), (0.8877, 1.6e-8),
    (0.8885, 8e-9), (0.8895, 6e-9), (0.8905, 2.5e-9), (0.8910, LOW), (0.8960, LOW), (0.8967, 3e-9),
    (0.8975, 3e-9), (0.8980, LOW), (0.9040, LOW), (0.9044, 5e-8), (0.9060, 5e-8), (0.9068, 6.5e-6),
    (0.9072, 3e-7), (0.9076, 1.6e-6), (0.9085, 5e-7), (0.9093, 1.8e-6), (0.9100, 4e-7), (0.9110, 3e-7),
    (0.9120, 2.5e-8), (0.9135, 2.5e-8), (0.9140, LOW), (0.9290, LOW), (0.9301, 3e-8), (0.9315, 2e-8),
    (0.9333, 5e-8), (0.9345, 1e-8), (0.9360, 1.2e-7), (0.9372, 1.7e-7), (0.9385, 1.6e-7), (0.9400, 1.5e-7),
    (0.9415, 4e-8), (0.9430, 1.5e-7), (0.9440, 2e-8), (0.9455, 1.1e-7), (0.9470, 6e-9), (0.9480, 1.1e-7),
    (0.9495, 3e-8), (0.9510, 1.1e-7), (0.9520, 3e-9), (0.9530, LOW), (0.9570, LOW), (0.9575, 1.2e-7),
    (0.9590, 1.8e-7), (0.9600, 2e-7), (0.9610, 4e-7), (0.9616, 7e-7), (0.9620, LOW), (0.9680, LOW),
    (0.9687, 2.8e-6), (0.9700, 3e-6), (0.9715, 3.2e-6), (0.9725, 3e-6), (0.9735, 1.8e-5), (0.9740, 1.3e-5),
    (0.9745, 1.5e-5), (0.9765, 1.4e-5), (0.9767, LOW), (1.0000, LOW), (1.0005, 2e-4), (1.0015, 2.2e-4),
    (1.0030, 2.5e-4), (1.0045, 3e-4), (1.0060, 3.9e-4), (1.0066, LOW),
]
d_model_IX = [
    (0.7829, LOW), (0.7830, 1e-7), (0.7845, 1.5e-7), (0.7855, 2e-7), (0.7865, 6.5e-7), (0.7871, 4e-7),
    (0.7880, 8.5e-7), (0.7885, 3e-7), (0.7897, 8.5e-7), (0.7910, 9e-7), (0.7930, 1e-6), (0.7952, 9.5e-7),
    (0.7970, 9e-7), (0.7978, 8.5e-7), (0.7980, LOW), (0.8008, LOW), (0.8010, 7.5e-8), (0.8020, 8e-8),
    (0.8026, 8e-8), (0.8028, LOW), (0.8040, LOW), (0.8048, 7e-9), (0.8055, 3e-9), (0.8062, 8e-9),
    (0.8074, 2.5e-9), (0.8080, LOW), (0.8100, LOW), (0.8103, 7e-8), (0.8115, 7.5e-8), (0.8125, 8e-8),
    (0.8135, 7.5e-8), (0.8136, LOW), (0.8180, LOW), (0.8183, 1.5e-7), (0.8186, 2e-9), (0.8200, 3.5e-9),
    (0.8209, 3e-9), (0.8215, 1.5e-9), (0.8225, LOW), (0.8268, LOW), (0.8273, 3e-9), (0.8290, 3e-8),
    (0.8296, 3e-8), (0.8300, 1.5e-8), (0.8315, 1.8e-8), (0.8330, 2e-8), (0.8345, 8e-8), (0.8353, 1.1e-7),
    (0.8370, 1.15e-7), (0.8390, 1.1e-7), (0.8410, 1.2e-7), (0.8430, 1.25e-7), (0.8450, 1.3e-7), (0.8458, 1.2e-7),
    (0.8459, LOW), (0.8695, LOW), (0.8697, 1.3e-8), (0.8705, 9e-9), (0.8712, 1.2e-8), (0.8723, 5e-8),
    (0.8730, 4e-8), (0.8740, 1e-7), (0.8750, 1.2e-7), (0.8762, 1.8e-7), (0.8770, 1e-7), (0.8780, 8e-8),
    (0.8795, 8e-8), (0.8805, 2e-7), (0.8813, 4.3e-7), (0.8825, 2e-7), (0.8835, 4.2e-7), (0.8839, 4e-7),
    (0.8840, LOW), (0.8900, LOW), (0.8905, 1.3e-9), (0.8930, 1.2e-9), (0.8960, 2e-9), (0.8967, 3e-9),
    (0.8985, 3e-9), (0.9006, 2e-8), (0.9020, 1.5e-7), (0.9040, 5e-7), (0.9060, 6.5e-7), (0.9076, 7e-7),
    (0.9090, 3e-7), (0.9102, 6e-6), (0.9110, 2e-7), (0.9120, 2.2e-6), (0.9131, 2.2e-6), (0.9140, 3e-7),
    (0.9150, 1.5e-8), (0.9160, 2e-6), (0.9170, 2.5e-7), (0.9180, 2e-6), (0.9189, 2e-6), (0.9195, LOW),
    (0.9215, LOW), (0.9221, 2.5e-5), (0.9230, 3.5e-5), (0.9237, 4e-5), (0.9242, 2e-7), (0.9250, LOW),
    (0.9265, LOW), (0.9269, 2e-5), (0.9274, 2e-5), (0.9276, LOW),
]
d_model_X = [
    (0.9004, LOW), (0.9006, 4.8e-7), (0.9015, 3e-7), (0.9030, 1e-8), (0.9045, 8e-9), (0.9060, 3e-9),
    (0.9070, 1.5e-9), (0.9076, LOW), (0.9290, LOW), (0.9295, 4e-9), (0.9301, 2.2e-8), (0.9306, 1.2e-9),
    (0.9310, LOW), (0.9330, LOW), (0.9340, 1.5e-9), (0.9345, LOW), (0.9375, LOW), (0.9380, 1e-8),
    (0.9390, 9e-9), (0.9400, 1.5e-9), (0.9410, LOW), (0.9428, LOW), (0.9430, 5e-8), (0.9436, 1e-8),
    (0.9442, 1.5e-9), (0.9450, LOW), (0.9475, LOW), (0.9480, 2e-9), (0.9490, 1.5e-9), (0.9495, LOW),
    (0.9530, LOW), (0.9535, 8e-9), (0.9540, 1.3e-9), (0.9545, LOW), (0.9600, LOW), (0.9605, 2e-9),
    (0.9612, 1.2e-9), (0.9616, LOW), (0.9640, LOW), (0.9645, 1.2e-9), (0.9660, 2.5e-9), (0.9672, 5e-9),
    (0.9678, 1.3e-9), (0.9690, 2.5e-8), (0.9705, 2.5e-8), (0.9715, 1e-8), (0.9725, 3.5e-9), (0.9735, 6e-9),
    (0.9745, 5e-9), (0.9760, 5.5e-9), (0.9770, 3e-9), (0.9780, 5e-9), (0.9790, 5.5e-9), (0.9800, 4.5e-9),
    (0.9810, 5.5e-9), (0.9820, 2.5e-9), (0.9830, 6e-9), (0.9845, 7e-9), (0.9860, 1.2e-8), (0.9875, 1.3e-8),
    (0.9890, 1.2e-8), (0.9905, 1.5e-8), (0.9920, 1.8e-8), (0.9935, 1.6e-8), (0.9950, 2e-8), (0.9965, 2.2e-8),
    (0.9980, 2e-8), (0.9995, 2.1e-8), (1.0010, 2e-8), (1.0025, 3e-9), (1.0040, 1e-8), (1.0055, 1.5e-8),
    (1.0070, 1.4e-8), (1.0085, 1.5e-8), (1.0100, 1.5e-8), (1.0115, 2e-8), (1.0130, 2.5e-8), (1.0145, 3e-8),
    (1.0155, 1.5e-7), (1.0162, 3e-7), (1.0175, 1e-7), (1.0185, LOW), (1.0355, LOW), (1.0362, 1e-7),
    (1.0372, 5e-7), (1.0384, 9e-7), (1.0395, 5e-7), (1.0405, 5.5e-7), (1.0420, 3e-7), (1.0430, 2.5e-7),
    (1.0440, 1e-7), (1.0450, 5e-7), (1.0458, 5e-7), (1.0460, LOW), (1.0495, LOW), (1.0500, 1.5e-9),
    (1.0505, LOW), (1.0512, LOW), (1.0516, 2e-8), (1.0530, 4.5e-8), (1.0545, 1.6e-8), (1.0554, LOW),
    (1.0580, LOW), (1.0585, 1.5e-9), (1.0590, LOW), (1.0680, LOW), (1.0683, 1.5e-8), (1.0690, LOW),
    (1.0735, LOW), (1.0737, 2e-7), (1.0742, 6e-8), (1.0750, 3e-7), (1.0763, 4e-7), (1.0780, 4.2e-7),
    (1.0800, 4e-7), (1.0815, 3.8e-7), (1.0827, 3.5e-7), (1.0828, LOW), (1.0975, LOW), (1.0982, 3.5e-8),
    (1.1000, 4e-8), (1.1020, 6e-8), (1.1022, LOW), (1.1300, LOW), (1.1309, 1.5e-9), (1.1320, 4e-9),
    (1.1340, 4.5e-9), (1.1365, 5e-9), (1.1375, 1e-8), (1.1380, 2e-8), (1.1382, LOW), (1.1460, LOW),
    (1.1465, 1.5e-9), (1.1470, 6e-9), (1.1480, 7.5e-9), (1.1495, 7e-9), (1.1510, 8e-9), (1.1528, 8e-9),
    (1.1530, LOW),
]

# legend entries: (roman numeral, N_k)
a_legend = [("I", "1"), ("II", "3"), ("III", "5")]
b_legend = [("VIII", "200"), ("IX", "1600"), ("X", "1600")]
c_legend = [("II", "3"), ("III", "5"), ("IV", "10")]
d_legend = [("VIII", "200"), ("IX", "1600"), ("X", "1600")]

captions = ["(a) Study I: Model I - Model III", "(b) Study I: Model VIII - Model X",
            "(c) Study II: Model II - Model IV", "(d) Study II: Model VIII - Model X"]

# ---------------- styling / helpers ----------------
SANS = "Liberation Sans"
SERIF = "DejaVu Serif"
COLORS = ["#ff0000", "#00ff00", "#000000"]
# advance widths (1/1000 em); the "greater or equal" sign is rendered from a fallback font, hence wider
AW = {'P': 667, ' ': 278, '(': 333, ')': 333, 'v': 500, "'": 191, 'l': 222, 'c': 500, 'r': 333, 'i': 222,
      't': 278, '\u2265': 838, '0': 556, '1': 556, '8': 556, 'm': 833, 's': 500, '-': 333, 'N': 722, 'k': 500}
MAIN, SMALL = 14, 11


def tw(s, size):
    return sum(AW.get(ch, 556) for ch in s) * size / 1000.0


def lbl(p, x, y, text, xo, yo, size, align="left", baseline="middle", font=SANS, angle=0.0):
    p.add_layout(Label(x=x, y=y, x_offset=xo, y_offset=yo, text=text, text_font=font,
                       text_font_size=f"{size}px", text_color="black", text_align=align,
                       text_baseline=baseline, angle=angle))


def blank(width, height):
    """A frame-only figure used as a text strip (y-axis titles, captions)."""
    f = figure(width=width, height=height, x_range=Range1d(0, width), y_range=Range1d(0, height),
               output_backend="svg", toolbar_location=None, title=None, min_border=0,
               x_axis_location=None, y_axis_location=None, outline_line_color=None,
               background_fill_color="white", border_fill_color="white")
    f.grid.visible = False
    return f


def ylabel_strip(width, height, base_x, center_y):
    """Rotated axis title P(v'(l_crit) >= 10^8 cm s^-1) built from pieces (sub/superscripts)."""
    f = blank(width, height)
    # (text, size, baseline shift to the right in px, extra leading advance)
    pieces = [("P (v'(l", MAIN, 0, 0), ("crit", SMALL, 7, 0.5), (")", MAIN, 0, 0.5),
              ("\u2265", MAIN, 0, tw(" ", MAIN)), ("10", MAIN, 0, tw(" ", MAIN)), ("8", SMALL, -6, 0.5),
              ("cm s", MAIN, 0, tw(" ", MAIN)), ("-1", SMALL, -6, 0.5), (")", MAIN, 0, tw(" ", MAIN))]
    total = sum(tw(t, s) + pre for t, s, _, pre in pieces)
    cur = -total / 2.0
    yc = height - center_y
    for t, s, shift, pre in pieces:
        cur += pre
        # baseline "middle": the em-box middle sits 0.3 em above the baseline (i.e. to the left when rotated)
        lbl(f, base_x + shift - 0.3 * s, yc + cur, t, 0, 0, s, baseline="middle", angle=math.pi / 2)
        cur += tw(t, s)
    return f


def caption_strip(height, items):
    f = blank(1136, height)
    for text, cx, mid_y in items:
        lbl(f, cx, height - mid_y, text, 0, 0, 22.5, align="center", baseline="middle", font=SERIF)
    return f


def make_panel(xr, yr, xticks, yticks, series, legend, leg_geom, width, height, borders, closed_right):
    bl, br, bt, bb = borders
    fw, fh = width - bl - br, height - bt - bb
    x0, x1 = xr
    y0, y1 = yr
    lt0, lt1 = math.log10(y0), math.log10(y1)
    p = figure(width=width, height=height, x_range=Range1d(x0, x1), y_range=Range1d(y0, y1),
               y_axis_type="log", output_backend="svg", toolbar_location=None, title=None,
               min_border_left=bl, min_border_right=br, min_border_top=bt, min_border_bottom=bb,
               outline_line_color="black" if closed_right else None, outline_line_width=1.2,
               background_fill_color="white", border_fill_color="white")
    p.grid.visible = False
    p.xaxis.ticker = FixedTicker(ticks=xticks, minor_ticks=[])
    p.yaxis.ticker = FixedTicker(ticks=yticks, minor_ticks=[])
    p.xaxis.formatter = CustomJSTickFormatter(code="return tick.toFixed(2);")
    p.yaxis.formatter = CustomJSTickFormatter(code="return tick.toExponential(0);")
    for ax in list(p.below) + list(p.left):
        ax.major_tick_in = 5
        ax.major_tick_out = 0
        ax.minor_tick_in = 0
        ax.minor_tick_out = 0
        ax.axis_line_color = "black"
        ax.axis_line_width = 1.2
        ax.major_tick_line_color = "black"
        ax.major_label_text_font = SANS
        ax.major_label_text_font_size = "14px"
        ax.major_label_text_color = "black"
    p.yaxis.major_label_standoff = 7
    p.xaxis.major_label_standoff = 6
    p.xaxis.axis_label = "time [s]"
    p.xaxis.axis_label_text_font = SANS
    p.xaxis.axis_label_text_font_size = "14px"
    p.xaxis.axis_label_text_font_style = "normal"
    p.xaxis.axis_label_text_color = "black"
    p.xaxis.axis_label_standoff = 7

    if not closed_right:
        p.add_layout(Span(location=y1, dimension="width", line_color="black", line_width=1.2))

    # mirrored tick marks on the top (and right) border, as gnuplot draws them
    tick_len_y = 10 ** (lt1 - 5.0 / fh * (lt1 - lt0))
    p.segment(x0=xticks, y0=[y1] * len(xticks), x1=xticks, y1=[tick_len_y] * len(xticks),
              line_color="black", line_width=1)
    if closed_right:
        xin = x1 - 5.0 / fw * (x1 - x0)
        p.segment(x0=[x1] * len(yticks), y0=yticks, x1=[xin] * len(yticks), y1=yticks,
                  line_color="black", line_width=1)

    for pairs, color in zip(series, COLORS):
        xs = [q[0] for q in pairs]
        ys = [q[1] for q in pairs]
        p.line(xs, ys, line_color=color, line_width=1)

    # legend (text left, sample line right, as in the original)
    model_l, num_r, paren_l, eq_l, val_r, ln0, ln1 = leg_geom
    for i, ((roman, nk), color) in enumerate(zip(legend, COLORS)):
        dy = 16.3 + i * 18.4
        lbl(p, x0, y1, "Model", model_l, -dy, MAIN)
        lbl(p, x0, y1, roman, num_r, -dy, MAIN, align="right")
        lbl(p, x0, y1, "(N", paren_l, -dy, MAIN)
        lbl(p, x0, y1, "k", paren_l + tw("(N", MAIN) + 0.5, -dy - 5.5, SMALL)
        lbl(p, x0, y1, "=", eq_l, -dy, MAIN)
        lbl(p, x0, y1, nk + ")", val_r, -dy, MAIN, align="right")
        ly = 10 ** (lt1 - dy / fh * (lt1 - lt0))
        p.segment(x0=[x0 + ln0 / fw * (x1 - x0)], y0=[ly], x1=[x0 + ln1 / fw * (x1 - x0)], y1=[ly],
                  line_color=color, line_width=1.3)
    return p


# Row 1 (y 0..405): frames at y 12..351; Row 2 (y 450..862): frames at y 473..811
pa = make_panel((0.9346, 1.2243), (1e-6, 2e-3), a_xticks, a_yticks, [a_model_I, a_model_II, a_model_III],
                a_legend, (13.8, 68, 76.3, 101.8, 134.5, 142.8, 182.4), 528, 405, (40, 10, 12, 54), True)
pb = make_panel((0.75, 1.1096), (1e-6, 2e-3), b_xticks, b_yticks, [b_model_VIII, b_model_IX, b_model_X],
                b_legend, (12.7, 77, 85.2, 110.5, 159.4, 168.5, 207.6), 512, 405, (40, 0, 12, 54), False)
pc = make_panel((1.025, 1.135), (1e-9, 1e-3), c_xticks, c_yticks, [c_model_II, c_model_III, c_model_IV],
                c_legend, (13.8, 69, 77.4, 101.8, 135.2, 144.3, 183.5), 528, 412, (40, 10, 23, 51), True)
pd = make_panel((0.755, 1.1736), (1e-9, 1e-3), d_xticks, d_yticks, [d_model_VIII, d_model_IX, d_model_X],
                d_legend, (14.5, 78, 87, 112.3, 160.5, 170.3, 209), 512, 412, (40, 0, 23, 51), False)

ya = ylabel_strip(40, 405, 28.5, 181.5)
yb = ylabel_strip(56, 405, 44.5, 181.5)
yc = ylabel_strip(40, 412, 28.5, 23 + 169)
yd = ylabel_strip(56, 412, 44.5, 23 + 169)

cap1 = caption_strip(45, [(captions[0], 296.5, 21), (captions[1], 902, 21)])
cap2 = caption_strip(36, [(captions[2], 297, 20), (captions[3], 881, 20)])

layout = column(row(ya, pa, yb, pb), cap1, row(yc, pc, yd, pd), cap2)
open("out.html", "w").write(file_html(layout, INLINE))
